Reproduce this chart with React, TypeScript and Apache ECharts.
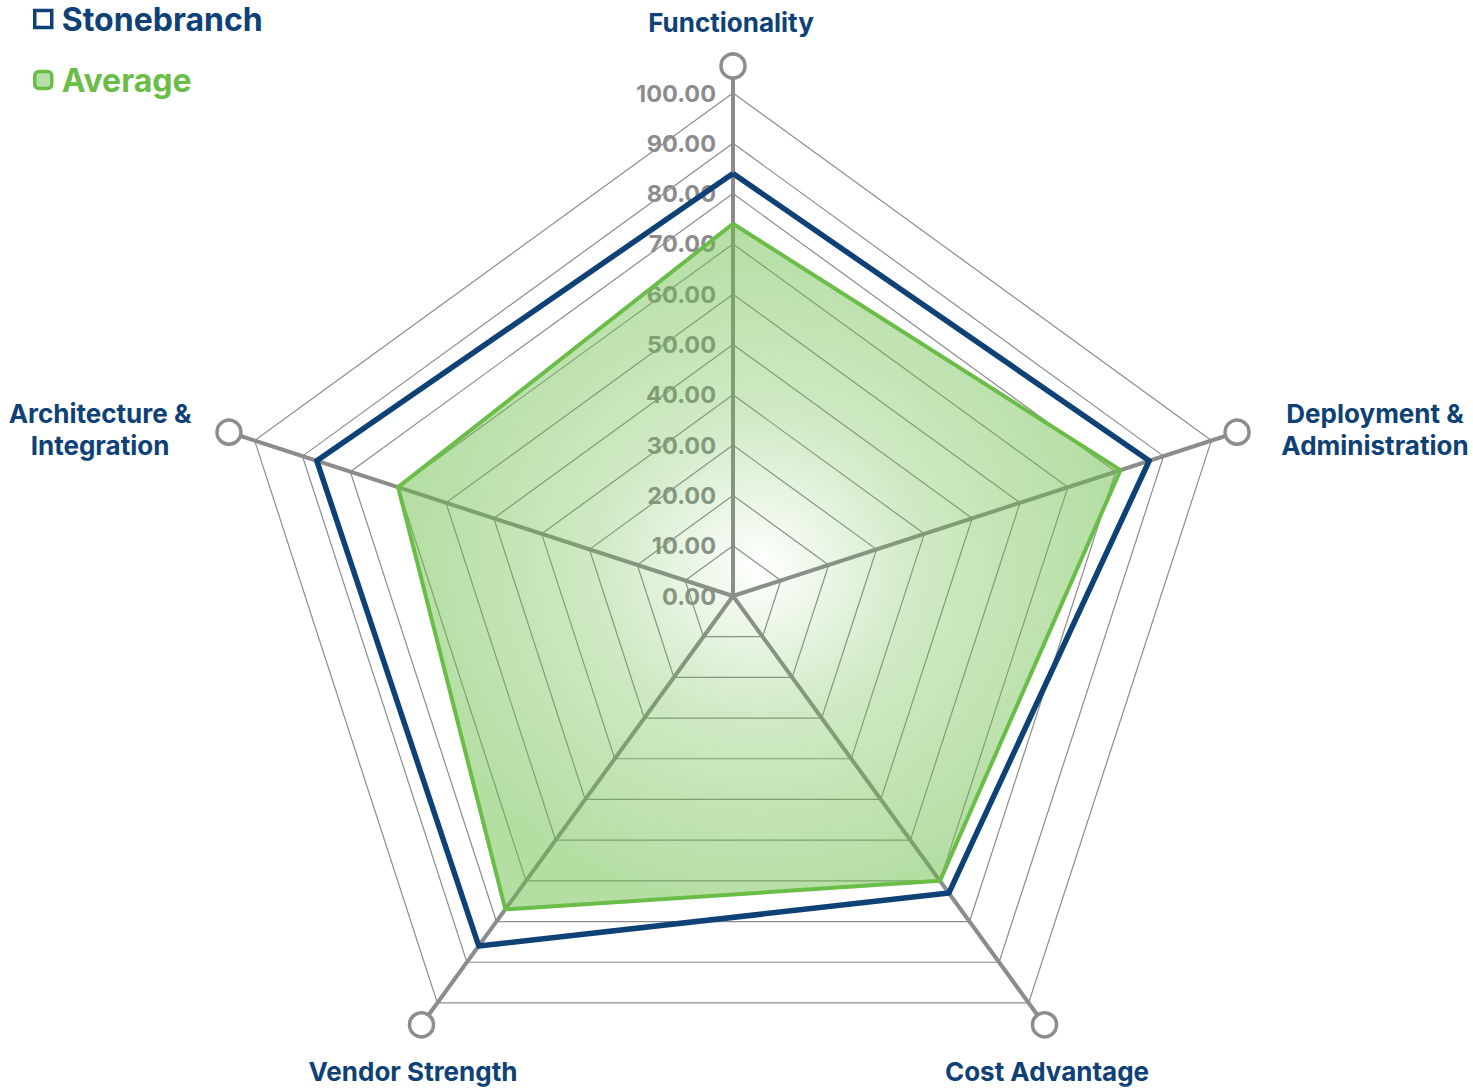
import React, { useEffect, useRef } from "react";
import * as echarts from "echarts";

// indicators listed in ECharts radar order (counter-clockwise from the top)
const indicators = ["Functionality", "Architecture &\nIntegration", "Vendor Strength", "Cost Advantage", "Deployment &\nAdministration"];
const stonebranch = [84, 87, 86, 73, 87];
const average = [74, 70, 77, 70, 81];
const seriesNames = ["Stonebranch", "Average"];

const FONT = "Inter, 'Open Sans', sans-serif";
const BLUE = "#0e4176";
const GREEN = "#6abd47";
const GRAY = "#8c8c8e";
const CX = 733, CY = 596, R = 503, R_AXIS = 517, R_DOT = 530;

// name label centers
const namePos = [
  [731, 22],
  [100, 429],
  [413, 1071],
  [1047, 1071],
  [1375, 429],
];

export default function App() {
  const ref = useRef<HTMLDivElement>(null);
  useEffect(() => {
    document.body.style.margin = "0";
    const chart = echarts.init(ref.current!, null, { renderer: "svg" });
    const dots = indicators.map((_, i) => {
      const a = ((90 + 72 * i) * Math.PI) / 180;
      return {
        type: "circle",
        shape: { cx: CX + R_DOT * Math.cos(a), cy: CY - R_DOT * Math.sin(a), r: 12 },
        style: { fill: "#fff", stroke: GRAY, lineWidth: 3.5 },
        z: 10,
      };
    });
    const names = indicators.map((t, i) => ({
      type: "text",
      x: namePos[i][0],
      y: namePos[i][1],
      style: {
        text: t,
        fill: BLUE,
        font: `bold 26px ${FONT}`,
        align: "center",
        verticalAlign: "middle",
        lineHeight: 32,
      },
      z: 10,
    }));
    chart.setOption({
      animation: false,
      backgroundColor: "#fff",
      legend: {
        orient: "vertical",
        left: 33,
        top: 3,
        padding: 0,
        itemWidth: 17,
        itemHeight: 17,
        itemGap: 29,
        selectedMode: false,
        textStyle: { fontSize: 32, fontWeight: "bold", fontFamily: FONT, lineHeight: 32, padding: [0, 0, 0, 5] },
        data: [
          { name: seriesNames[0], icon: "rect", itemStyle: { color: "#fff", borderColor: BLUE, borderWidth: 3.5 }, textStyle: { color: BLUE } },
          { name: seriesNames[1], icon: "roundRect", itemStyle: { color: "#b9dea8", borderColor: GREEN, borderWidth: 3.5 }, textStyle: { color: GREEN } },
        ],
      },
      radar: [
        {
          center: [CX, CY],
          radius: R,
          startAngle: 90,
          shape: "polygon",
          splitNumber: 10,
          axisName: { show: false },
          indicator: indicators.map((n, i) => ({
            name: n,
            min: 0,
            max: 100,
            axisLabel: i === 0 ? { show: true } : { show: false },
          })),
          axisLine: { show: false },
          axisTick: { show: false },
          axisLabel: {
            show: false,
            color: GRAY,
            fontSize: 23.5,
            fontWeight: "bold",
            fontFamily: FONT,
            margin: 17,
            formatter: (v: number) => v.toFixed(2),
          },
          splitLine: { lineStyle: { color: GRAY, width: 1.2 } },
          splitArea: { show: false },
        },
        {
          center: [CX, CY],
          radius: R_AXIS,
          startAngle: 90,
          shape: "polygon",
          splitNumber: 1,
          axisName: { show: false },
          indicator: indicators.map((n) => ({ name: n, min: 0, max: 100 })),
          axisLine: { show: true, lineStyle: { color: GRAY, width: 4 } },
          axisTick: { show: false },
          axisLabel: { show: false },
          splitLine: { show: false },
          splitArea: { show: false },
        },
      ],
      series: [
        {
          type: "radar",
          radarIndex: 0,
          symbol: "none",
          data: [
            {
              name: seriesNames[1],
              value: average,
              lineStyle: { color: GREEN, width: 4 },
              itemStyle: { color: GREEN },
              areaStyle: {
                color: {
                  type: "radial",
                  x: 0.5,
                  y: 0.5,
                  r: 0.5,
                  colorStops: [
                    { offset: 0, color: "rgba(106,189,71,0.0)" },
                    { offset: 0.45, color: "rgba(106,189,71,0.32)" },
                    { offset: 1, color: "rgba(106,189,71,0.5)" },
                  ],
                },
                opacity: 1,
              },
            },
            {
              name: seriesNames[0],
              value: stonebranch,
              lineStyle: { color: BLUE, width: 5.5 },
              itemStyle: { color: BLUE },
            },
          ],
        },
      ],
      graphic: [...dots, ...names],
    });
    return () => chart.dispose();
  }, []);
  return <div ref={ref} style={{ width: 1473, height: 1088 }} />;
}
